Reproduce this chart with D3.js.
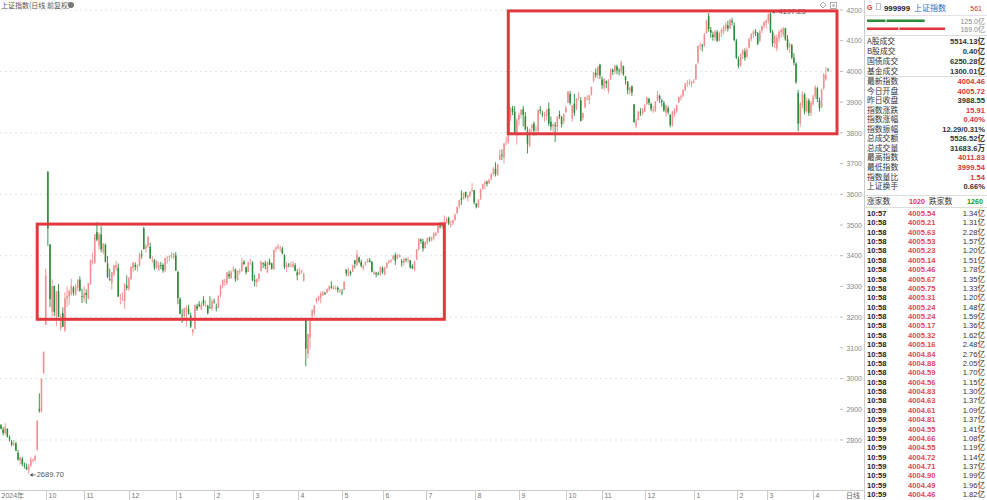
<!DOCTYPE html>
<html><head><meta charset="utf-8">
<script src="https://cdn.jsdelivr.net/npm/d3@7/dist/d3.min.js"></script>
<style>
body{margin:0;background:#fff}
svg{display:block}
text{font-family:"Noto Sans CJK SC","Noto Sans",sans-serif}
.num{font-family:"Liberation Sans","Noto Sans CJK SC",sans-serif}
</style>
</head><body><svg id="c" width="987" height="500"></svg>
<script>
// ---------- DATA ----------
const titleText = "上证指数(日线 前复权)";
// trading days per month
const monthDays = [
 ["2024-08",[28,29,30]],
 ["2024-09",[2,3,4,5,6,9,10,11,12,13,18,19,20,23,24,25,26,27,30]],
 ["2024-10",[8,9,10,11,14,15,16,17,18,21,22,23,24,25,28,29,30,31]],
 ["2024-11",[1,4,5,6,7,8,11,12,13,14,15,18,19,20,21,22,25,26,27,28,29]],
 ["2024-12",[2,3,4,5,6,9,10,11,12,13,16,17,18,19,20,23,24,25,26,27,30,31]],
 ["2025-01",[2,3,6,7,8,9,10,13,14,15,16,17,20,21,22,23,24,27]],
 ["2025-02",[5,6,7,10,11,12,13,14,17,18,19,20,21,24,25,26,27,28]],
 ["2025-03",[3,4,5,6,7,10,11,12,13,14,17,18,19,20,21,24,25,26,27,28,31]],
 ["2025-04",[1,2,3,7,8,9,10,11,14,15,16,17,18,21,22,23,24,25,28,29,30]],
 ["2025-05",[6,7,8,9,12,13,14,15,16,19,20,21,22,23,26,27,28,29,30]],
 ["2025-06",[3,4,5,6,9,10,11,12,13,16,17,18,19,20,23,24,25,26,27,30]],
 ["2025-07",[1,2,3,4,7,8,9,10,11,14,15,16,17,18,21,22,23,24,25,28,29,30,31]],
 ["2025-08",[1,4,5,6,7,8,11,12,13,14,15,18,19,20,21,22,25,26,27,28,29]],
 ["2025-09",[1,2,3,4,5,8,9,10,11,12,15,16,17,18,19,22,23,24,25,26,29,30]],
 ["2025-10",[9,10,13,14,15,16,17,20,21,22,23,24,27,28,29,30,31]],
 ["2025-11",[3,4,5,6,7,10,11,12,13,14,17,18,19,20,21,24,25,26,27,28]],
 ["2025-12",[1,2,3,4,5,8,9,10,11,12,15,16,17,18,19,22,23,24,25,26,29,30,31]],
 ["2026-01",[5,6,7,8,9,12,13,14,15,16,19,20,21,22,23,26,27,28,29,30]],
 ["2026-02",[2,3,4,5,6,9,10,11,12,13,24,25,26,27]],
 ["2026-03",[2,3,4,5,6,9,10,11,12,13,16,17,18,19,20,23,24,25,26,27,30,31]],
 ["2026-04",[1,2,3,7,8,9,10]]
];
const open = [
 2848,2834,2821,
 2836,2808,2794,2784,2789,2758,2733,2738,2718,2713,2700,2717,2735,2735,2770,2901,2893,3017,3175,
 3674,3437,3218,3302,3205,3285,3164,3213,3157,3260,3267,3275,3296,3272,3295,3322,3268,3261,
 3279,3261,3307,3379,3378,3477,3434,3469,3412,3436,3375,3324,3312,3339,3361,3361,3263,3258,3251,3303,3292,
 3325,3360,3370,3362,3368,3404,3489,3423,3432,3429,3385,3385,3361,3355,3369,3370,3352,3393,3395,3398,3393,3401,
 3347,3259,3207,3204,3223,3226,3205,3151,3162,3236,3241,3225,3256,3243,3237,3232,3228,3251,
 3231,3229,3270,3303,3318,3310,3340,3327,3355,3355,3321,3348,3350,3380,3362,3347,3385,3378,
 3320,3314,3324,3350,3375,3375,3346,3381,3375,3355,3421,3426,3425,3423,3401,3362,3371,3365,3365,3369,3346,
 3339,3347,3318,3193,3081,3134,3205,3214,3252,3257,3262,3271,3278,3280,3289,3300,3291,3293,3295,3284,3280,
 3288,3355,3336,3347,3348,3385,3369,3395,3379,3359,3371,3379,3385,3380,3341,3344,3341,3338,3360,
 3338,3361,3379,3383,3390,3402,3390,3398,3382,3377,3389,3387,3385,3366,3355,3387,3421,3453,3446,3424,
 3441,3456,3450,3458,3465,3475,3496,3494,3508,3507,3523,3502,3505,3516,3539,3562,3587,3585,3608,3589,3596,3611,3613,
 3569,3558,3583,3618,3633,3640,3636,3650,3666,3683,3664,3712,3729,3719,3768,3771,3848,3879,3869,3792,3843,
 3859,3877,3855,3805,3758,3815,3830,3812,3806,3875,3863,3856,3855,3879,3836,3821,3825,3818,3860,3851,3838,3867,
 3899,3927,3846,3895,3878,3915,3906,3849,3884,3912,3907,3925,3970,3996,3988,4022,3974,
 3948,3969,3937,3974,4005,4000,4016,4003,4001,4017,3983,3967,3936,3951,3893,3822,3842,3867,3863,3870,
 3894,3910,3894,3873,3872,3905,3920,3905,3897,3865,3880,3858,3826,3861,3870,3899,3915,3921,3940,3960,3965,3960,3966,
 3975,4030,4083,4085,4085,4125,4180,4135,4120,4110,4128,4100,4125,4130,4140,4150,4140,4165,4150,4100,
 4040,4020,4055,4065,4048,4078,4105,4120,4130,4125,4100,4132,4148,4158,
 4165,4188,4128,4090,4075,4108,4128,4120,4140,4105,4080,4085,4045,4025,3930,3830,3890,3925,3870,3905,3865,3895,
 3918,3945,3905,3885,3945,3975,4005.72
];
const high = [
 2852,2842,2855,
 2838,2815,2800,2800,2794,2768,2745,2745,2727,2724,2723,2745,2740,2752,2863,2952,3000,3088,3358,
 3674,3437,3323,3302,3285,3308,3211,3232,3281,3300,3289,3325,3301,3308,3323,3333,3293,3301,
 3290,3311,3387,3411,3470,3509,3476,3496,3442,3440,3399,3358,3347,3370,3383,3375,3276,3281,3309,3336,3331,
 3366,3379,3378,3373,3410,3418,3494,3438,3464,3442,3400,3390,3385,3380,3380,3375,3393,3399,3402,3411,3409,3412,
 3351,3265,3226,3230,3237,3240,3214,3161,3240,3244,3252,3249,3268,3254,3240,3268,3260,3260,
 3244,3270,3304,3322,3325,3346,3351,3353,3365,3358,3352,3358,3393,3386,3365,3380,3389,3382,
 3338,3326,3342,3384,3379,3384,3380,3391,3377,3420,3431,3439,3433,3429,3406,3379,3376,3379,3382,3376,3356,
 3361,3355,3345,3194,3147,3195,3225,3239,3262,3271,3283,3285,3283,3294,3303,3317,3303,3303,3301,3291,3291,
 3316,3356,3362,3352,3370,3386,3418,3397,3387,3371,3382,3391,3392,3383,3352,3347,3348,3366,3365,
 3365,3378,3387,3389,3403,3410,3406,3405,3389,3394,3393,3397,3386,3372,3384,3422,3456,3456,3455,3446,
 3459,3462,3462,3476,3478,3497,3510,3511,3531,3525,3527,3515,3516,3537,3560,3581,3613,3606,3608,3598,3609,3636,3613,
 3572,3584,3618,3634,3646,3645,3651,3669,3688,3704,3699,3746,3746,3766,3788,3825,3884,3888,3887,3847,3866,
 3876,3888,3868,3820,3814,3829,3837,3823,3875,3888,3872,3868,3877,3899,3853,3830,3835,3854,3872,3855,3863,3888,
 3936,3937,3891,3927,3913,3934,3916,3866,3917,3922,3925,3950,3999,4010,4016,4025,3984,
 3977,3971,3975,4010,4010,4022,4022,4010,4035,4019,3986,3968,3950,3955,3893,3846,3870,3881,3881,3894,
 3918,3915,3898,3888,3903,3937,3925,3911,3904,3892,3888,3862,3871,3880,3892,3918,3925,3941,3962,3972,3975,3970,3975,
 4025,4085,4095,4090,4125,4168,4190,4145,4130,4135,4135,4130,4140,4150,4160,4165,4172,4175,4160,4106,
 4048,4060,4072,4075,4078,4110,4125,4135,4138,4128,4135,4150,4165,4170,
 4190,4197.23,4135,4120,4120,4135,4140,4145,4142,4118,4095,4090,4060,4030,3940,3900,3935,3930,3915,3912,3905,3925,
 3955,3950,3915,3945,3995,4015,4011.83
];
const low = [
 2834,2815,2817,
 2808,2795,2779,2780,2765,2733,2720,2715,2707,2703,2689.70,2712,2727,2729,2764,2889,2889,3017,3175,
 3432,3233,3201,3203,3171,3200,3156,3167,3152,3233,3240,3270,3270,3270,3284,3283,3246,3250,
 3244,3258,3305,3371,3373,3447,3420,3411,3405,3378,3327,3318,3290,3332,3352,3266,3242,3252,3227,3288,3285,
 3320,3346,3352,3348,3366,3390,3420,3410,3426,3390,3377,3354,3357,3350,3356,3345,3346,3374,3382,3391,3388,3350,
 3242,3209,3181,3195,3170,3208,3164,3140,3160,3220,3232,3223,3236,3233,3209,3228,3221,3244,
 3219,3228,3264,3294,3301,3305,3324,3325,3346,3315,3319,3339,3348,3369,3339,3347,3370,3317,
 3300,3299,3316,3349,3360,3356,3343,3370,3355,3354,3411,3420,3413,3404,3357,3346,3362,3362,3360,3349,3320,
 3337,3342,3316,3040,3066,3094,3190,3203,3244,3253,3245,3269,3272,3278,3283,3292,3290,3289,3280,3279,3271,
 3288,3333,3332,3335,3347,3359,3367,3375,3362,3352,3368,3378,3378,3346,3338,3330,3336,3335,3341,
 3336,3358,3373,3376,3385,3370,3389,3394,3364,3368,3379,3377,3358,3357,3349,3387,3417,3439,3413,3424,
 3436,3445,3447,3450,3464,3473,3488,3488,3500,3505,3500,3493,3499,3514,3535,3554,3566,3583,3587,3577,3590,3608,3567,
 3554,3557,3583,3615,3615,3626,3634,3645,3661,3658,3660,3711,3712,3700,3759,3764,3838,3858,3800,3762,3824,
 3848,3821,3807,3733,3753,3801,3791,3792,3797,3862,3851,3836,3840,3822,3808,3803,3770,3805,3845,3818,3828,3865,
 3897,3890,3836,3855,3874,3905,3837,3841,3879,3905,3893,3921,3965,3979,3977,3975,3943,
 3939,3945,3928,3973,3988,3990,3991,3987,3990,3986,3957,3926,3924,3920,3833,3815,3840,3855,3858,3868,
 3890,3890,3870,3865,3868,3902,3897,3885,3868,3853,3860,3818,3820,3852,3865,3898,3905,3916,3935,3950,3955,3950,3960,
 3972,4025,4070,4065,4080,4122,4130,4110,4100,4100,4095,4098,4112,4120,4132,4130,4138,4150,4098,4040,
 4010,4015,4040,4035,4042,4075,4098,4108,4115,4085,4095,4125,4140,4140,
 4155,4125,4080,4075,4065,4095,4110,4112,4100,4070,4060,4040,4020,3960,3805,3820,3880,3860,3865,3855,3855,3888,
 3910,3900,3870,3880,3940,3970,3999.54
];
const close = [
 2837,2823,2842,
 2811,2802,2785,2788,2765,2736,2744,2721,2717,2704,2717,2736,2736,2748,2863,2896,3000,3087,3336,
 3489,3258,3301,3217,3284,3201,3202,3169,3261,3268,3285,3302,3280,3299,3322,3286,3266,3279,
 3272,3310,3387,3383,3470,3452,3470,3421,3439,3380,3330,3323,3346,3368,3370,3267,3263,3259,3309,3295,3326,
 3363,3378,3364,3368,3404,3402,3422,3432,3461,3391,3386,3361,3382,3370,3368,3352,3393,3394,3399,3400,3407,3352,
 3262,3211,3206,3230,3230,3211,3169,3160,3240,3227,3236,3241,3244,3243,3213,3231,3252,3250,
 3229,3270,3303,3322,3318,3346,3333,3346,3355,3324,3351,3350,3379,3373,3346,3380,3388,3320,
 3316,3324,3342,3381,3373,3366,3379,3371,3358,3419,3426,3430,3426,3408,3364,3370,3369,3368,3373,3351,3336,
 3348,3350,3342,3097,3145,3186,3223,3238,3262,3267,3276,3280,3277,3291,3300,3296,3297,3295,3288,3286,3279,
 3316,3343,3352,3342,3370,3374,3404,3380,3367,3367,3380,3388,3380,3348,3346,3340,3339,3363,3347,
 3361,3377,3384,3385,3399,3384,3402,3402,3377,3388,3387,3388,3362,3359,3381,3420,3455,3448,3424,3444,
 3457,3454,3461,3473,3473,3497,3493,3509,3510,3519,3505,3503,3516,3534,3559,3581,3582,3605,3593,3597,3609,3615,3573,
 3559,3583,3617,3634,3639,3635,3647,3665,3683,3666,3697,3728,3727,3766,3771,3825,3883,3868,3800,3843,3858,
 3875,3858,3813,3765,3812,3826,3807,3812,3875,3871,3860,3861,3876,3831,3820,3828,3822,3853,3853,3828,3862,3883,
 3934,3897,3889,3865,3912,3916,3839,3864,3917,3914,3922,3950,3996,3988,4016,3987,3955,
 3976,3961,3969,4008,3998,4019,4003,4001,4030,3991,3972,3939,3947,3931,3835,3837,3870,3864,3875,3889,
 3914,3898,3878,3876,3902,3924,3910,3900,3873,3889,3867,3825,3870,3876,3890,3917,3919,3940,3960,3964,3965,3965,3969,
 4023,4083,4085,4082,4120,4165,4138,4126,4112,4130,4100,4125,4135,4145,4152,4140,4168,4160,4102,4045,
 4018,4055,4068,4045,4070,4105,4120,4130,4125,4090,4130,4148,4160,4165,
 4185,4130,4092,4115,4110,4128,4135,4140,4105,4078,4088,4045,4028,3965,3830,3895,3925,3870,3905,3865,3898,3918,
 3948,3910,3880,3940,3990,3988.55,4004.46
];
// x-axis labels: [month key, label]
const xTickLabels = [
 ["2024-08","2024年"],["2024-10","10"],["2024-11","11"],["2024-12","12"],["2025-01","1"],["2025-02","2"],
 ["2025-03","3"],["2025-04","4"],["2025-05","5"],["2025-06","6"],["2025-07","7"],["2025-08","8"],["2025-09","9"],
 ["2025-10","10"],["2025-11","11"],["2025-12","12"],["2026-01","1"],["2026-02","2"],["2026-03","3"],["2026-04","4"]
];
const yTickValues = [2800,2900,3000,3100,3200,3300,3400,3500,3600,3700,3800,3900,4000,4100,4200];
const yGridValues = [2800,3000,3200,3400,3600,3800,4000,4200];
// annotation boxes [fromDate, toDate(null = plot edge), upper, lower]
const boxes = [
 ["2024-09-24","2025-07-11",3503,3193],
 ["2025-08-22",null,4197,3797]
];
// right panel
const headerCode = "999999", headerName = "上证指数", headerNum = "561";
const flowValues = [125.0, 169.0];
const flowParts = [[40,85],[68,101]];
const statLabels = ["A股成交","B股成交","国债成交","基金成交"];
const statValues = ["5514.13亿","0.40亿","6250.28亿","1300.01亿"];
const quoteLabels = ["最新指数","今日开盘","昨日收盘","指数涨跌","指数涨幅","指数振幅","总成交额","总成交量","最高指数","最低指数","指数量比","上证换手"];
const quoteValues = ["4004.46","4005.72","3988.55","15.91","0.40%","12.29/0.31%","5526.52亿","31683.6万","4011.83","3999.54","1.54","0.66%"];
const quoteUp = [1,1,0,1,1,0,0,0,1,1,1,0];
const breadthLabels = ["涨家数","跌家数"], breadthValues = ["1020","1260"];
const tickTimes = ["10:57","10:58","10:58","10:58","10:58","10:58","10:58","10:58","10:58","10:58","10:58","10:58","10:58","10:58","10:58","10:58","10:58","10:58","10:58","10:58","10:58","10:59","10:59","10:59","10:59","10:59","10:59","10:59","10:59","10:59","10:59"];
const tickPrices = ["4005.54","4005.21","4005.63","4005.53","4005.23","4005.14","4005.46","4005.67","4005.75","4005.31","4005.24","4005.24","4005.17","4005.32","4005.16","4004.84","4004.88","4004.59","4004.56","4004.83","4004.63","4004.61","4004.81","4004.55","4004.66","4004.55","4004.72","4004.71","4004.90","4004.49","4004.46"];
const tickVols = ["1.34亿","1.31亿","2.28亿","1.57亿","1.20亿","1.51亿","1.78亿","1.35亿","1.33亿","1.20亿","1.48亿","1.59亿","1.36亿","1.62亿","2.48亿","2.76亿","2.05亿","1.70亿","1.15亿","1.30亿","1.37亿","1.09亿","1.37亿","1.41亿","1.08亿","1.19亿","1.14亿","1.37亿","1.99亿","1.96亿","1.82亿"];

// ---------- BUILD ----------
const dates = [];
monthDays.forEach(([m, ds]) => ds.forEach(d => dates.push(m + "-" + String(d).padStart(2,"0"))));
const data = dates.map((d,i) => ({d, o:open[i], h:high[i], l:low[i], c:close[i]}));

const UP = "#f09090", DOWN = "#2a8c38", RED = "#e0353b", GREEN = "#1d9a22";
const plotRight = 839, panelX = 864;
const svg = d3.select("#c");

const x = d3.scaleBand().domain(dates).range([0, 829]).paddingInner(0.28).paddingOuter(0.1);
const bw = x.bandwidth();
const cx = d => x(d) + bw/2;
const y = d3.scaleLinear().domain([2800, 4200]).range([440, 10]);

// gridlines
svg.append("g").selectAll("line").data(yGridValues).join("line")
  .attr("x1", 0).attr("x2", plotRight).attr("y1", d => y(d)).attr("y2", d => y(d))
  .attr("stroke", "#dcdcdc").attr("stroke-width", 0.8).attr("stroke-dasharray", "2,3");

// candles
const cg = svg.append("g");
cg.selectAll("line").data(data).join("line")
  .attr("x1", d => cx(d.d)).attr("x2", d => cx(d.d))
  .attr("y1", d => y(d.h)).attr("y2", d => y(d.l))
  .attr("stroke", d => d.c >= d.o ? UP : DOWN).attr("stroke-width", 0.9);
cg.selectAll("rect").data(data).join("rect")
  .attr("x", d => x(d.d)).attr("width", bw)
  .attr("y", d => y(Math.max(d.o, d.c)))
  .attr("height", d => Math.max(0.8, Math.abs(y(d.o) - y(d.c))))
  .attr("fill", d => d.c >= d.o ? UP : DOWN);

// extreme labels
const minD = data.reduce((a,b) => b.l < a.l ? b : a);
const maxD = data.reduce((a,b) => b.h > a.h ? b : a);
[[minD, minD.l],[maxD, maxD.h]].forEach(([d, v]) => {
  const x0 = cx(d.d) + 1, yy = y(v);
  const g = svg.append("g");
  g.append("line").attr("x1", x0+1).attr("x2", x0+6).attr("y1", yy+1).attr("y2", yy+1).attr("stroke", "#555").attr("stroke-width", 0.8);
  g.append("path").attr("d", `M${x0},${yy+1}l3,-1.8v3.6z`).attr("fill", "#555");
  g.append("text").attr("class","num").attr("x", x0+7).attr("y", yy+3.5).attr("font-size", 7.5).attr("fill", "#555").text(v.toFixed(2));
});

// annotation boxes
boxes.forEach(([a, b, hi, lo]) => {
  const x1 = cx(a), x2 = b ? cx(b) : plotRight - 2;
  svg.append("rect").attr("x", x1).attr("y", y(hi)).attr("width", x2 - x1).attr("height", y(lo) - y(hi))
    .attr("fill", "none").attr("stroke", "#e3383f").attr("stroke-width", 3);
});

// title
svg.append("text").attr("x", 1).attr("y", 7.5).attr("font-size", 7).attr("fill", "#555").text(titleText);
svg.append("circle").attr("cx", 71).attr("cy", 5).attr("r", 3).attr("fill", "#777");
// top-right icons
svg.append("path").attr("d", "M823,2l3,3l-3,3l-3,-3z").attr("fill", "none").attr("stroke", "#999").attr("stroke-width", 0.8);
svg.append("rect").attr("x", 830.5).attr("y", 2.5).attr("width", 6).attr("height", 6).attr("fill", "none").attr("stroke", "#999").attr("stroke-width", 0.8);
svg.append("rect").attr("x", 832.5).attr("y", 4.5).attr("width", 2).attr("height", 2).attr("fill", "#999");

// y axis
const yAxis = svg.append("g").attr("transform", `translate(${panelX - 1},0)`)
  .call(d3.axisLeft(y).tickValues(yTickValues).tickSize(0).tickPadding(1).tickFormat(d3.format("d")));
yAxis.select(".domain").remove();
yAxis.selectAll("text").attr("class","num").attr("font-size", 7).attr("fill", "#888");
svg.append("g").selectAll("line").data(yTickValues).join("line")
  .attr("x1", 840).attr("x2", 843).attr("y1", d => y(d)).attr("y2", d => y(d)).attr("stroke", "#bbb");

// bottom axis
svg.append("line").attr("x1", 0).attr("x2", panelX).attr("y1", 490.5).attr("y2", 490.5).attr("stroke", "#ccc");
const firstOfMonth = xTickLabels.map(([m, lab]) => [dates.find(d => d.startsWith(m)), lab]);
const xg = svg.append("g").selectAll("g").data(firstOfMonth).join("g")
  .attr("transform", ([d]) => `translate(${Math.round(x(d)) - 0.5},0)`);
xg.append("line").attr("y1", 490).attr("y2", 500).attr("stroke", "#ccc");
xg.append("text").attr("class","num").attr("x", 2).attr("y", 498).attr("font-size", 7).attr("fill", "#777").text(([, l]) => l);
svg.append("text").attr("x", 846).attr("y", 498).attr("font-size", 7).attr("fill", "#666").text("日线");

// plot / panel borders
svg.append("line").attr("x1", panelX + 0.5).attr("x2", panelX + 0.5).attr("y1", 0).attr("y2", 500).attr("stroke", "#ccc");

// ---------- right panel ----------
const P = svg.append("g");
const L = 867, R = 985;
P.append("text").attr("class","num").attr("x", L).attr("y", 10).attr("font-size", 7).attr("font-weight", "bold").attr("fill", RED).text("G");
P.append("rect").attr("x", 876.5).attr("y", 3.5).attr("width", 4).attr("height", 6).attr("fill", "none").attr("stroke", "#aaa").attr("stroke-width", 0.7);
P.append("text").attr("class","num").attr("x", 884).attr("y", 10.5).attr("font-size", 7.8).attr("font-weight", "bold").attr("fill", "#222").text(headerCode);
P.append("text").attr("x", 914).attr("y", 11).attr("font-size", 8).attr("fill", "#2b6cc4").text(headerName);
P.append("text").attr("class","num").attr("x", 982).attr("y", 10.5).attr("text-anchor", "end").attr("font-size", 7).attr("fill", "#c9302c").text(headerNum);
P.append("line").attr("x1", panelX).attr("x2", 987).attr("y1", 15.5).attr("y2", 15.5).attr("stroke", "#e3e3e3");

const fx = d3.scaleLinear().domain([0, d3.max(flowValues)]).range([0, 78]);
const flowColors = [DOWN, RED];
flowParts.forEach((parts, k) => {
  let acc = 0;
  parts.forEach((p, j) => {
    P.append("rect").attr("x", L + fx(acc) + (j ? 1 : 0)).attr("y", 19.5 + k*8).attr("width", Math.max(0, fx(p) - (j ? 1 : 0))).attr("height", 2.5).attr("fill", flowColors[k]);
    acc += p;
  });
  P.append("text").attr("class","num").attr("x", R).attr("y", 23.5 + k*8).attr("text-anchor", "end").attr("font-size", 7).attr("fill", "#888").text(flowValues[k].toFixed(1) + "亿");
});
P.append("line").attr("x1", panelX).attr("x2", 987).attr("y1", 35.5).attr("y2", 35.5).attr("stroke", "#ddd");

const LF = 7.8, VF = 7.6;
statLabels.forEach((lab, i) => {
  const yy = 41 + i*10;
  P.append("text").attr("x", L).attr("y", yy + 3).attr("font-size", LF).attr("fill", "#333").text(lab);
  P.append("text").attr("class","num").attr("x", R).attr("y", yy + 3).attr("text-anchor", "end").attr("font-size", VF).attr("font-weight", "bold").attr("fill", "#333").text(statValues[i]);
});
P.append("line").attr("x1", panelX).attr("x2", 987).attr("y1", 76.5).attr("y2", 76.5).attr("stroke", "#ddd");
quoteLabels.forEach((lab, i) => {
  const yy = 81 + i*9.55;
  P.append("text").attr("x", L).attr("y", yy + 3).attr("font-size", LF).attr("fill", "#333").text(lab);
  P.append("text").attr("class","num").attr("x", R).attr("y", yy + 3).attr("text-anchor", "end").attr("font-size", VF).attr("font-weight", "bold").attr("fill", quoteUp[i] ? RED : "#333").text(quoteValues[i]);
});
P.append("line").attr("x1", panelX).attr("x2", 987).attr("y1", 195.5).attr("y2", 195.5).attr("stroke", "#ddd");
P.append("text").attr("x", L).attr("y", 204).attr("font-size", LF).attr("fill", "#333").text(breadthLabels[0]);
P.append("text").attr("class","num").attr("x", 909).attr("y", 204).attr("font-size", 7.2).attr("font-weight", "bold").attr("fill", RED).text(breadthValues[0]);
P.append("text").attr("x", 929).attr("y", 204).attr("font-size", LF).attr("fill", "#333").text(breadthLabels[1]);
P.append("text").attr("class","num").attr("x", R - 2).attr("y", 204).attr("text-anchor", "end").attr("font-size", 7.2).attr("font-weight", "bold").attr("fill", GREEN).text(breadthValues[1]);
P.append("line").attr("x1", panelX).attr("x2", 987).attr("y1", 207.5).attr("y2", 207.5).attr("stroke", "#ddd");

tickTimes.forEach((t, i) => {
  const yy = 213 + i*9.37;
  P.append("text").attr("class","num").attr("x", L).attr("y", yy + 3).attr("font-size", 7.6).attr("font-weight", "bold").attr("fill", "#222").text(t);
  P.append("text").attr("class","num").attr("x", 908).attr("y", yy + 3).attr("font-size", 7.6).attr("font-weight", "bold").attr("fill", "#e04a50").text(tickPrices[i]);
  P.append("text").attr("class","num").attr("x", R).attr("y", yy + 3).attr("text-anchor", "end").attr("font-size", 7.6).attr("fill", "#333").text(tickVols[i]);
});
</script>
</body></html>
